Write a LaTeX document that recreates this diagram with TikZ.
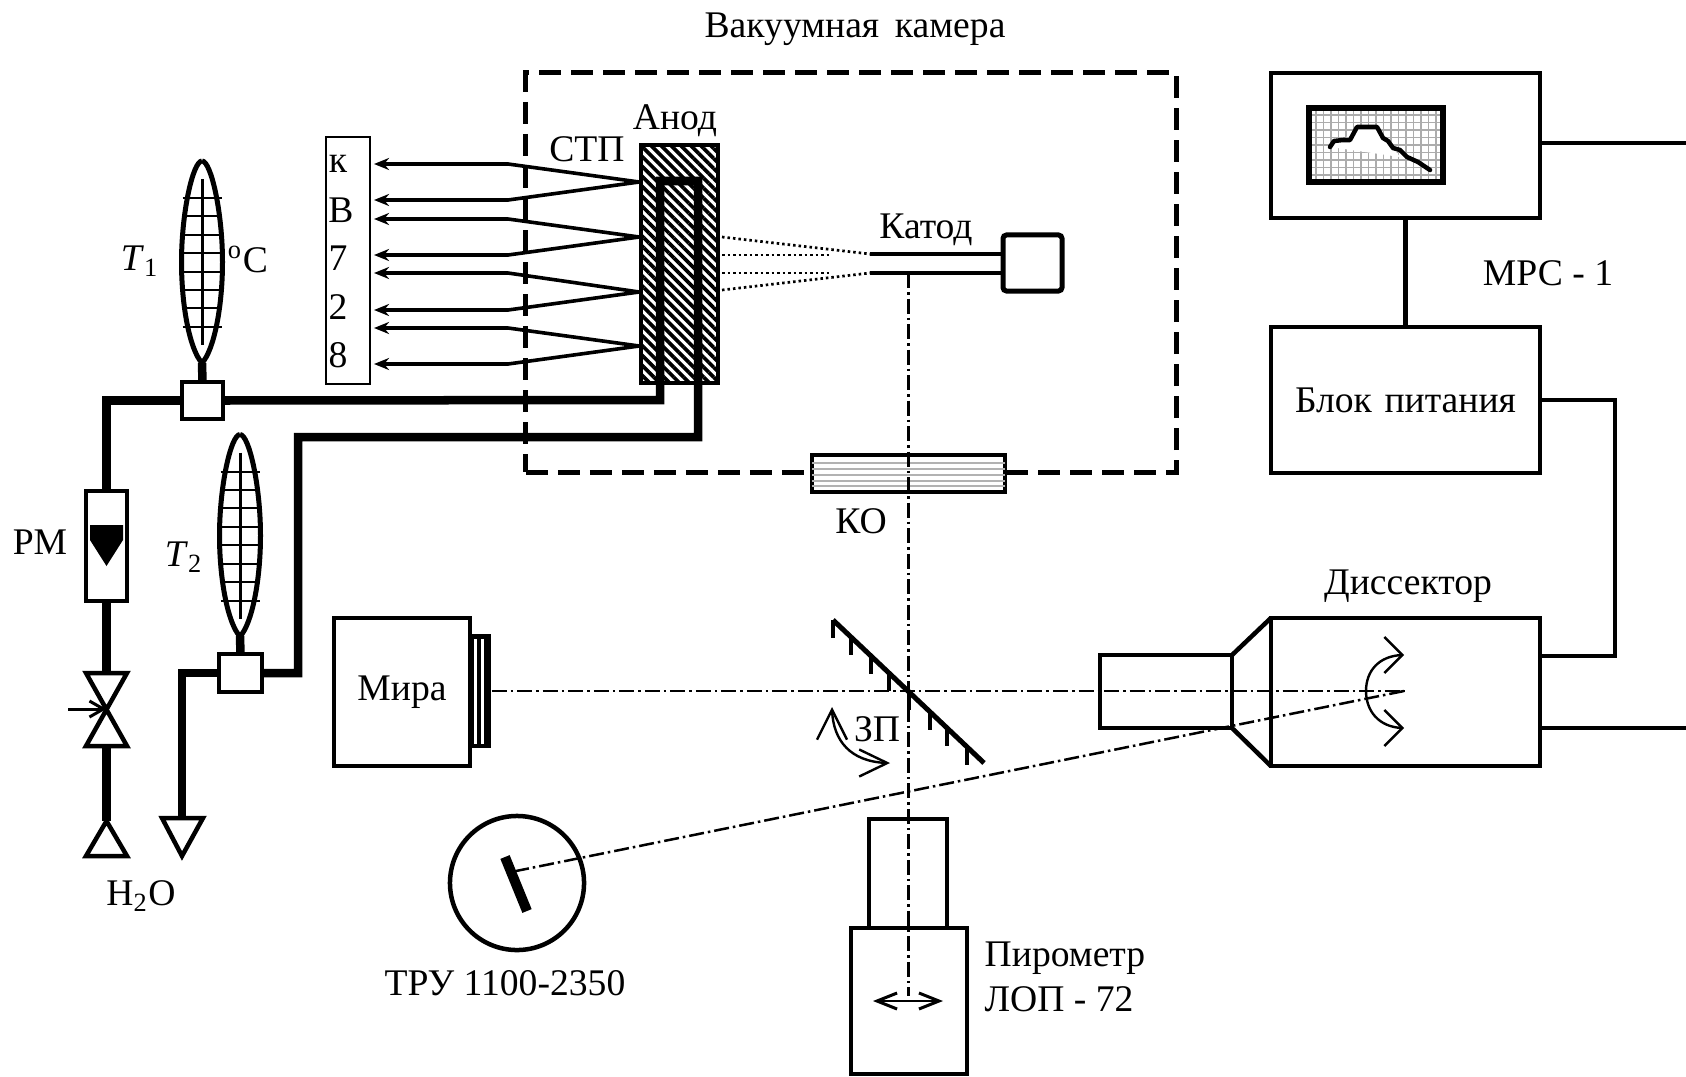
\documentclass[tikz,border=0pt]{standalone}
\usepackage{fontspec}
\setmainfont{Liberation Serif}
\usetikzlibrary{arrows.meta,bending,patterns.meta,calc}
\tikzset{
  lbl/.style={inner sep=0pt, font=\fontsize{10.7}{13}\selectfont},
  blk/.style={draw, line width=0.045cm, inner sep=0pt, outer sep=0pt, font=\fontsize{10.7}{13}\selectfont},
  pipe/.style={line width=0.085cm, line join=miter},
  outl/.style={line width=0.045cm},
  wire/.style={line width=0.036cm, -{Stealth[length=0.15cm,width=0.12cm]}},
  beam/.style={line width=0.025cm, dash pattern=on 0.15cm off 0.04cm on 0.025cm off 0.04cm},
  spark/.style={line width=0.027cm, dash pattern=on 0.025cm off 0.03cm},
  barb/.style={line width=0.024cm},
  thermo/.pic={
    \draw[line width=0.05cm] (0,-101) .. controls (-9,-101) and (-20.5,-50) .. (-20.5,0) .. controls (-20.5,45) and (-12,88) .. (0,101) .. controls (12,88) and (20.5,45) .. (20.5,0) .. controls (20.5,-50) and (9,-101) .. (0,-101);
    \draw[line width=0.03cm] (0,-83) -- (0,83);
    \foreach \ty in {-64,-46,-27.5,-9,9.5,28,46,65}
      \draw[line width=0.02cm] (-19.5,\ty) -- (19.5,\ty);
  }
}
\begin{document}
\begin{tikzpicture}[x=0.01cm, y=-0.01cm]
  \useasboundingbox (0,0) rectangle (1686,1076);
  \node[lbl] (vactitle) at (855,29) {Вакуумная\, камера};
  \node[draw, line width=0.05cm, dash pattern=on 0.22cm off 0.1cm, minimum width=6.5cm, minimum height=3.99cm] (vac) at (851,272.5) {};

  \node[draw, line width=0.014cm, minimum width=0.44cm, minimum height=2.47cm] (term) at (348,260.5) {};
  \node[lbl] (tk) at (338,164) {к};
  \node[lbl] (tv) at (341,210) {В};
  \node[lbl] (t7) at (338,258) {7};
  \node[lbl] (t2) at (338,307) {2};
  \node[lbl] (t8) at (338,355) {8};

  \node[draw, line width=0.045cm, minimum width=0.77cm, minimum height=2.38cm, pattern={Lines[angle=-45,distance=2pt,line width=1.05pt]}] (anode) at (679.5,264) {};
  \node[lbl] (anodelbl) at (675,121) {Анод};
  \node[lbl] (stplbl) at (587,149) {СТП};
  \foreach \yj/\ya/\yb in {182/164/200, 237/219/255, 292/273/310, 346/328/364} {
    \coordinate (j) at (anode.west |- 0,\yj);
    \draw[wire] (j) -- (508,\ya) -- (374,\ya);
    \draw[wire] (j) -- (508,\yb) -- (374,\yb);
  }

  \node[blk, minimum width=0.41cm, minimum height=0.37cm] (t1box) at (202.5,400.5) {};
  \node[blk, minimum width=0.43cm, minimum height=0.38cm] (t2box) at (240.5,673) {};
  \pic at (202,262) {thermo};
  \pic at (240,535.5) {thermo};
  \node[lbl] (t1lbl) at (140,261) {\textit{T}\textsubscript{1}};
  \node[lbl] (t2lbl) at (184,557) {\textit{T}\textsubscript{2}};
  \node[lbl] (deg) at (248,259) {\textsuperscript{o}C};
  \coordinate (stub1) at (202,363);
  \coordinate (stub2) at (240,636);
  \draw[pipe] (stub1) -- (t1box.north);
  \draw[pipe] (stub2) -- (t2box.north);

  \node[blk, minimum width=0.41cm, minimum height=1.1cm] (rm) at (106.5,546) {};
  \node[lbl] (rmlbl) at (40,542) {РМ};
  \fill (90,525) -- (123,525) -- (123,540) -- (106.5,566) -- (90,540) -- cycle;
  \coordinate (vtop) at (106.5,673);
  \coordinate (vmid) at (106.5,709);
  \coordinate (vbot) at (106.5,746);
  \coordinate (vin) at (68,709);
  \coordinate (dr1) at (106.5,821);
  \coordinate (dr2) at (182,818);
  \draw[outl, line join=miter] (86,673) -- (127,673) -- (86,746) -- (127,746) -- cycle;
  \draw[line width=0.03cm, -{Straight Barb[length=0.14cm,width=0.16cm,line width=0.03cm]}] (vin) -- (vmid);
  \draw[outl, line join=miter] (dr1) -- (127,856) -- (86,856) -- cycle;
  \draw[outl, line join=miter] (162,818) -- (203,818) -- (182,856) -- cycle;
  \node[lbl] (h2o) at (141,896) {H\textsubscript{2}O};
  \draw[pipe] (t1box.west) -| (rm.north);
  \draw[pipe] (rm.south) -- (vtop);
  \draw[pipe] (vbot) -- (dr1);
  \draw[pipe] (t2box.west) -| (dr2);

  \coordinate (tube1) at (660,400);
  \coordinate (tube2) at (660,181);
  \coordinate (tube3) at (698,181);
  \coordinate (tube4) at (698,437);
  \coordinate (tube5) at (298,437);
  \draw[pipe] (t1box.east) -- (tube1) -- (tube2) -- (tube3) -- (tube4) -- (tube5) |- (t2box.east);

  \node[draw, line width=0.05cm, rounded corners=1pt, minimum width=0.59cm, minimum height=0.56cm] (cbox) at (1032.5,263) {};
  \node[lbl] (cathlbl) at (926,230) {Катод};
  \coordinate (c1) at (870,254);
  \coordinate (c2) at (870,273);
  \draw[line width=0.045cm] (c1) -- (c1 -| cbox.west);
  \draw[line width=0.045cm] (c2) -- (c2 -| cbox.west);
  \draw[spark] (722,237) -- (c1);
  \draw[spark] (722,255) -- (832,255);
  \draw[spark] (722,273) -- (832,273);
  \draw[spark] (722,290) -- (c2);

  \node[blk, fill=white, minimum width=1.93cm, minimum height=0.37cm] (ko) at (908.5,473.5) {};
  \foreach \gy in {463,469,475,481,486}
    \draw[gray!60, line width=0.012cm] (ko.west |- 0,\gy) -- (ko.east |- 0,\gy);
  \node[lbl] (kolbl) at (861,521) {КО};

  \node[blk, minimum width=1.36cm, minimum height=1.48cm] (mira) at (402,692) {Мира};
  \node[fill, inner sep=0pt, minimum width=0.23cm, minimum height=1.14cm] (miralens) at (479.5,691) {};
  \fill[white] (474,639) rectangle (477,744);
  \fill[white] (481,639) rectangle (484,744);

  \node[blk, minimum width=1.32cm, minimum height=0.73cm] (tube) at (1166,691.5) {};
  \node[blk, minimum width=2.69cm, minimum height=1.48cm] (diss) at (1405.5,692) {};
  \node[lbl] (disslbl) at (1408,586) {Диссектор};
  \draw[outl] (tube.north east) -- (diss.north west);
  \draw[outl] (tube.south east) -- (diss.south west);

  \coordinate (zpA) at (833,620);
  \coordinate (zpB) at (984,763);
  \draw[line width=0.05cm] (zpA) -- (zpB);
  \foreach \f in {0,0.12,0.25,0.37,0.5,0.64,0.755,0.887}
    \draw[line width=0.04cm] ($(zpA)!\f!(zpB)$) -- ++(0,18);
  \node[lbl] (zplbl) at (877,729) {ЗП};
  \draw[barb, {Straight Barb[length=0.3cm,width=0.3cm,flex=0]}-{Straight Barb[length=0.28cm,width=0.27cm,flex=0]}] (832,707) .. controls (832,740) and (850,763) .. (890,763);

  \coordinate (diss1) at (1404,691);
  \coordinate (needle1) at (505,857);
  \coordinate (needle2) at (527,911);
  \coordinate (cam) at (516,871);
  \coordinate (pyr) at (908.5,996);
  \draw[beam] (miralens.east |- diss1) -- (diss1);
  \draw[beam] (c2 -| pyr) -- (pyr);
  \draw[beam] (diss1) -- (cam);
  \draw[barb, {Straight Barb[length=0.18cm,width=0.36cm,flex=0]}-{Straight Barb[length=0.18cm,width=0.36cm,flex=0]}] (1404,655) .. controls (1380,655) and (1366,670) .. (1366,691) .. controls (1366,712) and (1380,728) .. (1404,728);

  \node[draw, circle, line width=0.045cm, minimum size=1.34cm] (tru) at (517,883) {};
  \draw[line width=0.1cm] (needle1) -- (needle2);
  \node[lbl] (trulbl) at (505,983) {ТРУ 1100-2350};

  \node[blk, minimum width=0.78cm, minimum height=1.09cm] (pyrtop) at (908,873.5) {};
  \node[blk, minimum width=1.16cm, minimum height=1.46cm] (pyrbot) at (909,1001) {};
  \draw[line width=0.02cm, {Straight Barb[length=0.2cm,width=0.16cm,line width=0.03cm]}-{Straight Barb[length=0.2cm,width=0.16cm,line width=0.03cm]}] (873,1001) -- (943,1001);
  \node[lbl, anchor=west] (pyr1) at (984,958) {Пирометр};
  \node[lbl, anchor=west] (pyr2) at (984,999) {ЛОП - 72};

  \node[blk, minimum width=2.69cm, minimum height=1.45cm] (mon) at (1405.5,145.5) {};
  \node[draw, line width=0.055cm, minimum width=1.34cm, minimum height=0.74cm, path picture={\draw[gray!65, line width=0.016cm, step=0.075cm] (path picture bounding box.south west) grid (path picture bounding box.north east);}] (scr) at (1376,145) {};
  \fill[white] (1330,147) -- (1334,141) -- (1343,140) -- (1357,127) -- (1377,127) -- (1383,138) -- (1393,148) -- (1400,157) -- cycle;
  \draw[line width=0.045cm, line join=round, line cap=round] (1330,147) -- (1334,141) -- (1343,140) -- (1350,140) -- (1357,127) -- (1377,127) -- (1383,138) -- (1388,141) -- (1393,148) -- (1400,150) -- (1407,157) -- (1418,162) -- (1430,170);
  \node[blk, minimum width=2.69cm, minimum height=1.46cm, text width=2.6cm, align=center] (psu) at (1405.5,400) {Блок питания};
  \node[lbl] (mrs) at (1548,273) {МРС - 1};
  \coordinate (outa) at (1686,143);
  \coordinate (outb) at (1686,728);
  \coordinate (dissup) at (1615,656);
  \draw[outl] (mon.south) -- (psu.north);
  \draw[outl] (outa -| mon.east) -- (outa);
  \draw[outl] (psu.east) -| (dissup) -- (dissup -| diss.east);
  \draw[outl] (outb -| diss.east) -- (outb);
\end{tikzpicture}
\end{document}
